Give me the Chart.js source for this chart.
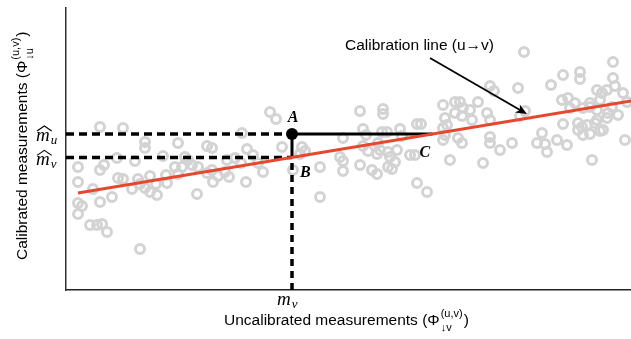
<!DOCTYPE html>
<html lang="en">
<head>
<meta charset="UTF-8" />
<title>Calibration line</title>
<script src="https://cdn.jsdelivr.net/npm/chart.js"></script>
<style>
  * { margin: 0; padding: 0; box-sizing: border-box; }
  html, body { background: #fff; width: 631px; height: 339px; overflow: hidden; }
  .chart-box { position: relative; width: 631px; height: 339px; }
</style>
</head>
<body>
<div class="chart-box"><canvas id="calibChart"></canvas></div>
<script>
// paired readings: uncalibrated (u) vs calibrated (v), arbitrary units
const uncalibrated = [
  34,57,79,79,112,141,146,176,181,12, 12,34,38,51,69,97,119,122,52,57,
  72,74,84,66,79,84,91,101,109,116, 112,126,132,141,146,152,159,163,169,175,
  180,147,131,27,46,34,12,16,12,24, 31,36,41,74,204,210,216,236,239,234,
  197,192,227,254,254,274,100,90,187,161,
  277,277,277,294,294,297,300,297,302,306, 311,317,317,316,321,312,314,311,322,324,
  322,326,334,336,331,329,344,349,351,355, 351,361,377,379,381,389,377,384,379,377,
  394,397,396,404,406,389,392,396,412,421, 424,424,428,424,424,434,446,417,452,454,
  459,458,476,471,479,481,485,497,496,502, 509,491,501,497,512,512,516,517,514,514,
  531,536,541,547,547,549,524,534,531,531, 524,537,542,557,526,559,561,546,552,541,
  524,521,529,534,504,517
];
const calibrated = [
  163,162,148,142,147,144,142,157,141,123, 108,120,125,132,129,134,133,130,112,111,
  111,106,114,101,102,98,95,107,123,123, 116,125,123,117,120,114,118,113,132,127,
  108,108,96,101,93,88,87,84,76,65, 65,66,58,41,178,171,143,143,139,136,
  118,127,120,123,93,133,115,106,135,130,
  152,129,119,179,125,161,155,144,139,120, 116,181,176,158,158,147,140,136,138,133,
  123,121,161,154,140,128,135,135,166,166, 107,98,185,172,165,188,150,130,155,162,
  188,182,174,180,170,177,152,147,188,177, 170,204,199,153,147,140,147,127,202,174,
  179,238,157,147,146,138,205,215,190,192, 187,150,145,166,167,160,163,155,218,211,
  200,197,200,228,212,204,187,190,180,170, 156,160,177,197,130,150,188,183,175,172,
  183,165,167,159,182,182
];

// fitted calibration line  v = intercept + slope * u
const lineIntercept = 95;
const lineSlope = 0.1664;
const lineRange = [12, 565];

// one reading: m_v on the u axis, its calibrated value m̂_u
const mv = 226;
const mhatU = 156;
const mhatV = lineIntercept + lineSlope * mv;          // B: line value at m_v
const cU = (mhatU - lineIntercept) / lineSlope;        // C: where v = m̂_u meets the line

const uMax = 565;
const vMax = 282;

const fitY = u => lineIntercept + lineSlope * u;
const points = uncalibrated.map((u, i) => ({ x: u, y: calibrated[i] }));

const SERIF = '"Liberation Serif", "DejaVu Serif", serif';
const SANS = '"Liberation Sans", Arial, sans-serif';

// italic m with optional wide hat and a subscript
function mathLabel(ctx, left, base, sub, hat) {
  ctx.textAlign = 'left';
  ctx.font = 'italic 19px ' + SERIF;
  ctx.fillText('m', left, base);
  const w = ctx.measureText('m').width;
  ctx.font = 'italic 13px ' + SERIF;
  ctx.fillText(sub, left + w + 1, base + 3);
  if (hat) {
    ctx.beginPath();
    ctx.lineWidth = 1.1;
    ctx.moveTo(left + 1, base - 10);
    ctx.lineTo(left + w / 2 + 1.5, base - 15);
    ctx.lineTo(left + w + 2, base - 10);
    ctx.stroke();
  }
}

// "label (Φ^(u,v)_↓sub)" drawn from the current origin
function phiTitle(ctx, label, sub) {
  ctx.textAlign = 'left';
  ctx.font = '15.5px ' + SANS;
  const main = label + ' (\u03A6';
  ctx.fillText(main, 0, 0);
  const w = ctx.measureText(main).width;
  ctx.font = '11px ' + SANS;
  ctx.fillText('(u,v)', w + 1, -8);
  const ws = ctx.measureText('(u,v)').width;
  ctx.fillText('\u2193' + sub, w + 1, 6);
  ctx.font = '15.5px ' + SANS;
  ctx.fillText(')', w + 2 + ws, 0);
}

const notes = {
  id: 'notes',
  afterDatasetsDraw(chart) {
    const { ctx, chartArea: area, scales: { x, y } } = chart;
    const ax = x.getPixelForValue(mv);
    const ay = y.getPixelForValue(mhatU);
    const by = y.getPixelForValue(mhatV);
    const cx = x.getPixelForValue(cU);

    ctx.save();
    ctx.fillStyle = '#000';
    ctx.strokeStyle = '#000';
    ctx.textBaseline = 'alphabetic';

    ctx.font = 'italic bold 16px ' + SERIF;
    ctx.textAlign = 'center';
    ctx.fillText('A', ax + 1, ay - 12);
    ctx.textAlign = 'left';
    ctx.fillText('B', ax + 8, by + 20);
    ctx.fillText('C', cx - 13, ay + 23);

    mathLabel(ctx, area.left - 30, ay + 7, 'u', true);
    mathLabel(ctx, area.left - 30, by + 8, 'v', true);
    mathLabel(ctx, ax - 15, area.bottom + 15, 'v', false);

    // annotation pointing at the calibration line
    ctx.font = '15.5px ' + SANS;
    ctx.textAlign = 'left';
    ctx.fillText('Calibration line (u\u2192v)', 345, 50);
    const x0 = 430, y0 = 58, x1 = 527, y1 = 114;
    const ang = Math.atan2(y1 - y0, x1 - x0);
    ctx.lineWidth = 1.8;
    ctx.beginPath();
    ctx.moveTo(x0, y0);
    ctx.lineTo(x1 - 4 * Math.cos(ang), y1 - 4 * Math.sin(ang));
    ctx.stroke();
    ctx.beginPath();
    ctx.moveTo(x1, y1);
    ctx.lineTo(x1 - 12 * Math.cos(ang - 0.4), y1 - 12 * Math.sin(ang - 0.4));
    ctx.lineTo(x1 - 8 * Math.cos(ang), y1 - 8 * Math.sin(ang));
    ctx.lineTo(x1 - 12 * Math.cos(ang + 0.4), y1 - 12 * Math.sin(ang + 0.4));
    ctx.closePath();
    ctx.fill();

    // axis titles
    ctx.save();
    ctx.translate(224, 325);
    phiTitle(ctx, 'Uncalibrated measurements', 'v');
    ctx.restore();

    ctx.save();
    ctx.translate(27, 260);
    ctx.rotate(-Math.PI / 2);
    phiTitle(ctx, 'Calibrated measurements', 'u');
    ctx.restore();

    ctx.restore();
  }
};

const segment = (pts, extra) => Object.assign({
  data: pts, showLine: true, borderColor: '#000', borderWidth: 3.5,
  pointRadius: 0, fill: false, order: 2
}, extra);

new Chart(document.getElementById('calibChart'), {
  type: 'scatter',
  data: {
    datasets: [
      segment([{ x: 0, y: mhatU }, { x: mv, y: mhatU }], { borderDash: [8, 5] }),
      segment([{ x: 0, y: mhatV }, { x: mv, y: mhatV }], { borderDash: [8, 5] }),
      segment([{ x: mv, y: 0 }, { x: mv, y: mhatV }], { borderDash: [7, 5] }),
      segment([{ x: mv, y: mhatV }, { x: mv, y: mhatU }, { x: cU, y: mhatU }], { borderWidth: 3 }),
      segment([{ x: lineRange[0], y: fitY(lineRange[0]) }, { x: lineRange[1], y: fitY(lineRange[1]) }],
        { borderColor: '#e5482f', borderWidth: 3, order: 1 }),
      { data: [{ x: mv, y: mhatU }], pointRadius: 6, backgroundColor: '#000', borderWidth: 0, order: 0 },
      {
        data: points, pointRadius: 4.5, borderWidth: 3, borderColor: '#d3d3d3',
        backgroundColor: 'rgba(0,0,0,0)', order: 5
      }
    ]
  },
  options: {
    responsive: true,
    maintainAspectRatio: false,
    animation: false,
    events: [],
    layout: { autoPadding: false, padding: { left: 66, top: 8, right: 0, bottom: 49 } },
    plugins: { legend: { display: false }, tooltip: { enabled: false } },
    scales: {
      x: {
        type: 'linear', min: 0, max: uMax,
        grid: { display: false, drawTicks: false },
        ticks: { display: false },
        border: { color: '#222', width: 1.5 }
      },
      y: {
        type: 'linear', min: 0, max: vMax,
        grid: { display: false, drawTicks: false },
        ticks: { display: false },
        border: { color: '#333', width: 1.5 }
      }
    }
  },
  plugins: [notes]
});
</script>
</body>
</html>
